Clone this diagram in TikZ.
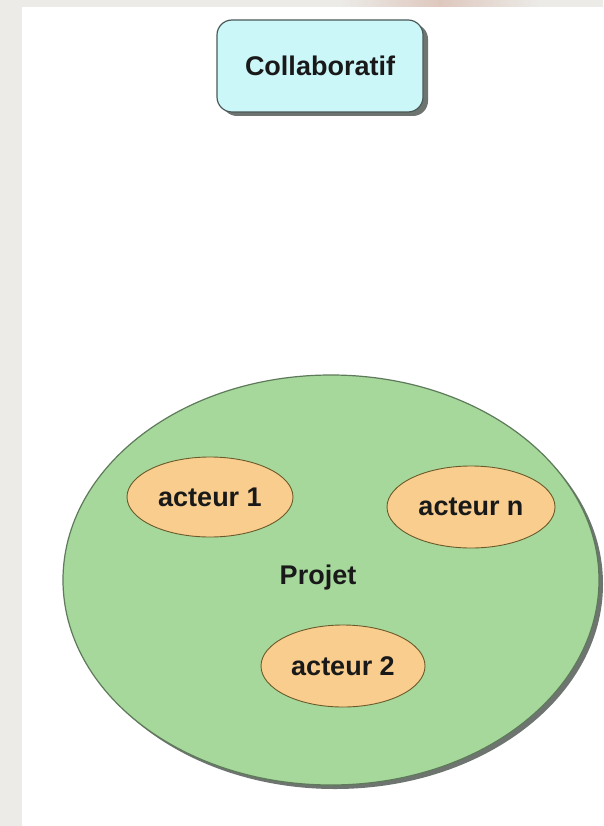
\documentclass[tikz,border=0pt]{standalone}
\usepackage{fontspec}
\setmainfont{Liberation Sans}
\usetikzlibrary{shapes.geometric}
\definecolor{bgstrip}{HTML}{ECEBE8}
\definecolor{boxfill}{HTML}{CCF7F8}
\definecolor{boxline}{HTML}{4A5A58}
\definecolor{projfill}{HTML}{A6D89C}
\definecolor{projline}{HTML}{5E7A5A}
\definecolor{actfill}{HTML}{F8CD8E}
\definecolor{actline}{HTML}{6B5A2A}
\definecolor{shadowc}{HTML}{6E7570}
\tikzset{
  lbl/.style={font=\fontsize{27}{32}\selectfont\bfseries, text=black!90},
  titlebox/.style={draw=boxline, line width=1.2pt, fill=boxfill, rounded corners=15pt,
    minimum width=206pt, minimum height=92pt, lbl},
  projell/.style={ellipse, draw=projline, line width=1.2pt, fill=projfill,
    minimum width=536pt, minimum height=410pt},
  actell/.style={ellipse, draw=actline, line width=0.9pt, fill=actfill,
    minimum width=166pt, minimum height=80pt, lbl},
}
\begin{document}
\begin{tikzpicture}[x=1pt,y=-1pt]
\useasboundingbox (0,0) rectangle (603,826);
% background
\fill[bgstrip] (0,0) rectangle (603,826);
\fill[white] (22,7) rectangle (603,826);
\shade[left color=bgstrip, right color=bgstrip, middle color={rgb,255:red,222;green,200;blue,190}] (340,0) rectangle (540,7);
% title box shadow and box
\fill[shadowc, rounded corners=15pt] (222,24) rectangle (428,116);
\node[titlebox] (collab) at (320,66) {Collaboratif};
% project ellipse shadow
\fill[shadowc] (335,584) ellipse [x radius=268pt, y radius=205pt];
\node[projell] (projet) at (331,580) {};
\node[lbl] (projlbl) at (318,578) {Projet};
\node[actell] (a1) at (210,497) {acteur 1};
\node[actell, minimum width=168pt, minimum height=82pt] (an) at (471,507) {acteur n};
\node[actell, minimum width=164pt, minimum height=82pt] (a2) at (343,666) {acteur 2};
\end{tikzpicture}
\end{document}
